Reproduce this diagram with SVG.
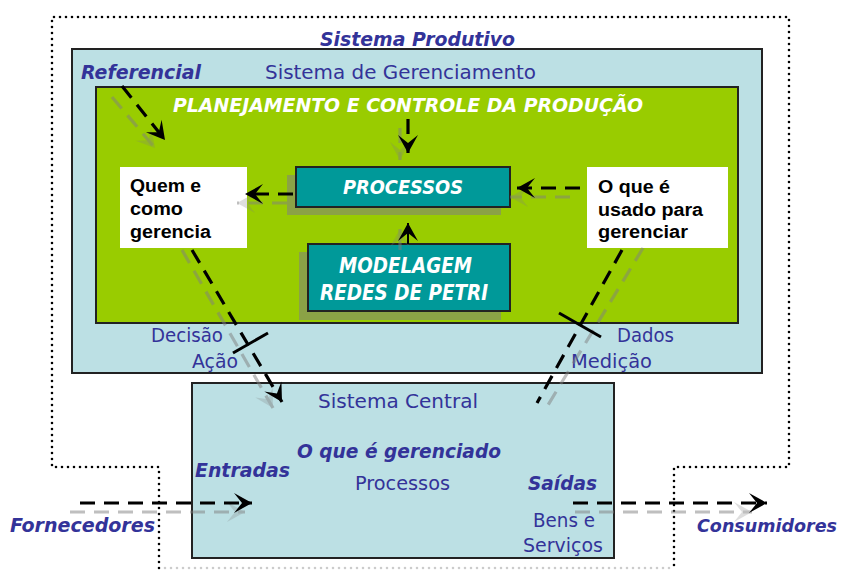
<svg xmlns="http://www.w3.org/2000/svg" width="846" height="570" viewBox="0 0 846 570">
<style>
.dot{fill:none;stroke:#000;stroke-width:2.6;stroke-linecap:round;stroke-dasharray:0 6}
.box{stroke:#222;stroke-width:2}
.lb{fill:#bce0e4}
.teal{fill:#009999}
.shadow{fill:#808080;opacity:0.55}
.t{font-family:"DejaVu Sans","Liberation Sans",sans-serif;fill:#333399;font-size:20px}
.bi{font-weight:bold;font-style:italic}
.w{fill:#fff;font-weight:bold;font-style:italic;font-size:20px}
.k{font-family:"Liberation Sans","DejaVu Sans",sans-serif;fill:#000;font-weight:bold;font-size:18px}
.bl{fill:none;stroke:#000;stroke-width:3.2;stroke-dasharray:15 9}
.gr{fill:none;stroke:#808080;stroke-width:3.2;stroke-dasharray:15 9;opacity:0.5}
.tick{stroke:#000;stroke-width:3}
</style>
<defs>
<marker id="ab" markerUnits="userSpaceOnUse" markerWidth="24" markerHeight="24" viewBox="-20 -12 22 24" refX="0" refY="0" orient="auto">
<path d="M-18,-10 L0,0 L-18,10 L-10,0 z" fill="#000"/>
</marker>
<marker id="ag" markerUnits="userSpaceOnUse" markerWidth="24" markerHeight="24" viewBox="-20 -12 22 24" refX="0" refY="0" orient="auto">
<path d="M-18,-10 L0,0 L-18,10 L-10,0 z" fill="#808080" opacity="0.5"/>
</marker>
</defs>
<rect width="846" height="570" fill="#fff"/>
<g id="sistema-produtivo">
<path class="dot" d="M159,568 L159,467 L52,467 L52,17 L789,17 L789,467 L674,467 L674,568"/>
<path class="dot" d="M165,568 L670,568" style="stroke:#ccc"/>
<text class="t bi" x="320" y="46" textLength="195" lengthAdjust="spacingAndGlyphs">Sistema Produtivo</text>
</g>
<g id="sistema-gerenciamento">
<rect class="box lb" x="72" y="49" width="690" height="324"/>
<text class="t bi" x="81" y="79" textLength="120" lengthAdjust="spacingAndGlyphs">Referencial</text>
<text class="t" x="265" y="79" textLength="271" lengthAdjust="spacingAndGlyphs">Sistema de Gerenciamento</text>
</g>
<g id="pcp">
<rect class="box" x="96" y="87" width="642" height="236" fill="#99cc00"/>
<text class="t w" x="173" y="112" textLength="470" lengthAdjust="spacingAndGlyphs">PLANEJAMENTO E CONTROLE DA PRODUÇÃO</text>
</g>
<g id="processos">
<rect class="shadow" x="287" y="175" width="214" height="40"/>
<rect class="box teal" x="296" y="167" width="214" height="40"/>
<text class="t w" x="343" y="194" textLength="120" lengthAdjust="spacingAndGlyphs">PROCESSOS</text>
</g>
<g id="modelagem">
<rect class="shadow" x="299" y="252" width="202" height="68"/>
<rect class="box teal" x="308" y="244" width="202" height="67"/>
<text class="t w" x="339" y="273" textLength="133" lengthAdjust="spacingAndGlyphs" style="font-size:21px">MODELAGEM</text>
<text class="t w" x="320" y="300" textLength="168" lengthAdjust="spacingAndGlyphs" style="font-size:21px">REDES DE PETRI</text>
</g>
<g id="quem">
<rect x="120" y="167" width="127" height="81" fill="#fff"/>
<text class="k" x="130" y="192" textLength="71" lengthAdjust="spacingAndGlyphs">Quem e</text>
<text class="k" x="130" y="215" textLength="53" lengthAdjust="spacingAndGlyphs">como</text>
<text class="k" x="130" y="238" textLength="81" lengthAdjust="spacingAndGlyphs">gerencia</text>
</g>
<g id="usado">
<rect x="587" y="167" width="141" height="81" fill="#fff"/>
<text class="k" x="598" y="193" textLength="72" lengthAdjust="spacingAndGlyphs">O que é</text>
<text class="k" x="598" y="216" textLength="105" lengthAdjust="spacingAndGlyphs">usado para</text>
<text class="k" x="598" y="238" textLength="90" lengthAdjust="spacingAndGlyphs">gerenciar</text>
</g>
<g id="sistema-central">
<rect class="box lb" x="192" y="383" width="422" height="175"/>
<text class="t" x="318" y="408" textLength="160" lengthAdjust="spacingAndGlyphs">Sistema Central</text>
<text class="t bi" x="297" y="458" textLength="204" lengthAdjust="spacingAndGlyphs">O que é gerenciado</text>
<text class="t bi" x="195" y="477" textLength="95" lengthAdjust="spacingAndGlyphs">Entradas</text>
<text class="t" x="355" y="490" textLength="95" lengthAdjust="spacingAndGlyphs">Processos</text>
<text class="t bi" x="528" y="490" textLength="69" lengthAdjust="spacingAndGlyphs">Saídas</text>
<text class="t" x="533" y="527" textLength="62" lengthAdjust="spacingAndGlyphs">Bens e</text>
<text class="t" x="523" y="552" textLength="80" lengthAdjust="spacingAndGlyphs">Serviços</text>
</g>
<g id="labels">
<text class="t" x="151" y="342" textLength="72" lengthAdjust="spacingAndGlyphs">Decisão</text>
<text class="t" x="192" y="368" textLength="46" lengthAdjust="spacingAndGlyphs">Ação</text>
<text class="t" x="617" y="342" textLength="57" lengthAdjust="spacingAndGlyphs">Dados</text>
<text class="t" x="571" y="368" textLength="81" lengthAdjust="spacingAndGlyphs">Medição</text>
<text class="t bi" x="10" y="532" textLength="145" lengthAdjust="spacingAndGlyphs">Fornecedores</text>
<text class="t bi" x="697" y="532" textLength="140" lengthAdjust="spacingAndGlyphs" style="font-size:18px">Consumidores</text>
</g>
<g id="connectors">
<path class="gr" d="M112,97 L155,148" marker-end="url(#ag)"/>
<path class="bl" d="M122,86 L165,140" marker-end="url(#ab)"/>
<path class="gr" d="M400,128 L400,160" marker-end="url(#ag)"/>
<path class="bl" d="M408,119 L408,153" marker-end="url(#ab)"/>
<path class="gr" d="M287,203 L237,203" marker-end="url(#ag)"/>
<path class="bl" d="M293,194 L245,194" marker-end="url(#ab)"/>
<path class="gr" d="M570,197 L510,197" marker-end="url(#ag)"/>
<path class="bl" d="M580,188 L517,188" marker-end="url(#ab)"/>
<path class="gr" d="M400,250 L400,229" marker-end="url(#ag)" style="stroke-dasharray:none"/>
<path class="bl" d="M408,244 L408,223" marker-end="url(#ab)" style="stroke-dasharray:none;stroke-width:2"/>
<path class="gr" d="M182,250 L273,408" marker-end="url(#ag)"/>
<path class="bl" d="M192,250 L282,402" marker-end="url(#ab)"/>
<line class="tick" x1="233" y1="353" x2="268" y2="333"/>
<path class="gr" d="M643,248 L545,410"/>
<path class="bl" d="M622,250 L537,403"/>
<line class="tick" x1="559" y1="313" x2="601" y2="337"/>
<path class="gr" d="M70,512 L245,512" marker-end="url(#ag)"/>
<path class="bl" d="M80,503 L252,503" marker-end="url(#ab)"/>
<path class="gr" d="M575,512 L752,512" marker-end="url(#ag)"/>
<path class="bl" d="M573,503 L767,503" marker-end="url(#ab)"/>
</g>
</svg>
